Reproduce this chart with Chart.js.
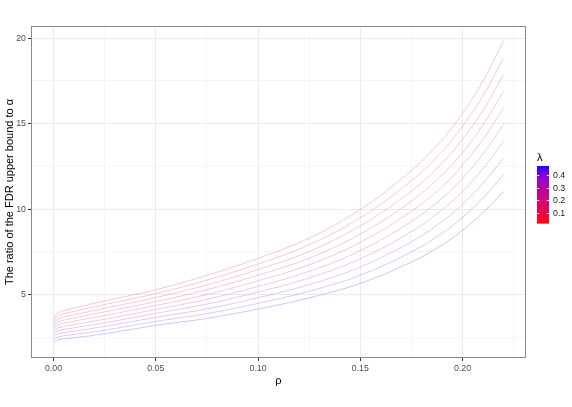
<!DOCTYPE html>
<html>
<head>
<meta charset="utf-8">
<script src="https://cdn.jsdelivr.net/npm/chart.js@4"></script>
<style>
  html, body { margin: 0; padding: 0; background: #ffffff; }
  #wrap { width: 572px; height: 407px; }
</style>
</head>
<body>
<div id="wrap"><canvas id="chart" width="572" height="407"></canvas></div>
<script>
// correlation values along the x axis
const rho = [0, 0.002, 0.01, 0.025, 0.05, 0.075, 0.10, 0.125, 0.15, 0.175, 0.19, 0.20, 0.21, 0.22];

// one curve per lambda (smallest lambda = top, red)
const lambda = [0.02, 0.07, 0.12, 0.17, 0.22, 0.27, 0.32, 0.37, 0.42, 0.47];

const ratio1  = [3.57, 3.90, 4.20, 4.62, 5.28, 6.12, 7.12, 8.30, 9.98, 12.25, 14.06, 15.62, 17.50, 19.84];
const ratio2  = [3.41, 3.73, 4.01, 4.41, 5.05, 5.84, 6.79, 7.91, 9.50, 11.66, 13.38, 14.86, 16.64, 18.86];
const ratio3  = [3.26, 3.55, 3.81, 4.19, 4.82, 5.56, 6.46, 7.52, 9.02, 11.06, 12.69, 14.10, 15.79, 17.88];
const ratio4  = [3.10, 3.38, 3.62, 3.98, 4.58, 5.28, 6.13, 7.13, 8.54, 10.47, 12.01, 13.33, 14.93, 16.90];
const ratio5  = [2.94, 3.21, 3.43, 3.77, 4.35, 5.00, 5.80, 6.74, 8.06, 9.87, 11.32, 12.57, 14.08, 15.92];
const ratio6  = [2.79, 3.03, 3.23, 3.55, 4.12, 4.72, 5.47, 6.36, 7.57, 9.28, 10.64, 11.81, 13.22, 14.95];
const ratio7  = [2.63, 2.86, 3.04, 3.34, 3.89, 4.44, 5.14, 5.97, 7.09, 8.68, 9.96, 11.05, 12.37, 13.97];
const ratio8  = [2.47, 2.69, 2.85, 3.13, 3.66, 4.16, 4.81, 5.58, 6.61, 8.09, 9.27, 10.28, 11.51, 12.99];
const ratio9  = [2.32, 2.51, 2.65, 2.91, 3.42, 3.88, 4.48, 5.19, 6.13, 7.49, 8.59, 9.52, 10.66, 12.01];
const ratio10 = [2.16, 2.34, 2.46, 2.70, 3.19, 3.60, 4.15, 4.80, 5.65, 6.90, 7.90, 8.76, 9.80, 11.03];
const ratios = [ratio1, ratio2, ratio3, ratio4, ratio5, ratio6, ratio7, ratio8, ratio9, ratio10];

// axis ticks
const xTicks = [0, 0.05, 0.10, 0.15, 0.20];
const xMinor = [0.025, 0.075, 0.125, 0.175, 0.225];
const yTicks = [5, 10, 15, 20];
const yMinor = [2.5, 7.5, 12.5, 17.5];
const legendTicks = [0.1, 0.2, 0.3, 0.4];

/**
 * ggplot-style red -> blue gradient, interpolated in CIELAB.
 */
function toLab(rgb) {
  const lin = rgb.map(c => {
    c /= 255;
    return c <= 0.04045 ? c / 12.92 : Math.pow((c + 0.055) / 1.055, 2.4);
  });
  const X = (0.4124564 * lin[0] + 0.3575761 * lin[1] + 0.1804375 * lin[2]) / 0.95047;
  const Y = 0.2126729 * lin[0] + 0.7151522 * lin[1] + 0.0721750 * lin[2];
  const Z = (0.0193339 * lin[0] + 0.1191920 * lin[1] + 0.9503041 * lin[2]) / 1.08883;
  const f = t => t > 0.008856 ? Math.cbrt(t) : 7.787 * t + 16 / 116;
  return [116 * f(Y) - 16, 500 * (f(X) - f(Y)), 200 * (f(Y) - f(Z))];
}

function fromLab(lab) {
  const fy = (lab[0] + 16) / 116;
  const fx = fy + lab[1] / 500;
  const fz = fy - lab[2] / 200;
  const inv = t => t * t * t > 0.008856 ? t * t * t : (t - 16 / 116) / 7.787;
  const X = inv(fx) * 0.95047, Y = inv(fy), Z = inv(fz) * 1.08883;
  const lin = [
    3.2404542 * X - 1.5371385 * Y - 0.4985314 * Z,
    -0.9692660 * X + 1.8760108 * Y + 0.0415560 * Z,
    0.0556434 * X - 0.2040259 * Y + 1.0572252 * Z,
  ];
  return lin.map(c => {
    c = c <= 0.0031308 ? 12.92 * c : 1.055 * Math.pow(c, 1 / 2.4) - 0.055;
    return Math.round(Math.max(0, Math.min(1, c)) * 255);
  });
}

const LOW = toLab([255, 0, 0]);
const HIGH = toLab([0, 0, 255]);
const lamMin = Math.min(...lambda);
const lamMax = Math.max(...lambda);

function lambdaColour(lam, alpha) {
  const t = (lam - lamMin) / (lamMax - lamMin);
  const rgb = fromLab(LOW.map((v, i) => v + (HIGH[i] - v) * t));
  return `rgba(${rgb[0]},${rgb[1]},${rgb[2]},${alpha})`;
}

const datasets = ratios.map((vals, k) => ({
  label: 'lambda ' + lambda[k],
  data: rho.map((x, i) => ({ x: x, y: vals[i] })),
  borderColor: lambdaColour(lambda[k], 0.22),
  borderWidth: 1,
  pointRadius: 0,
  fill: false,
  tension: 0.4,
}));

const TEXT = '"Liberation Sans", Arial, sans-serif';

// panel border + colourbar legend, drawn after the chart
const decorations = {
  id: 'decorations',
  afterDraw(chart) {
    const { ctx, chartArea } = chart;
    ctx.save();
    ctx.strokeStyle = '#8a8a8a';
    ctx.lineWidth = 1;
    ctx.strokeRect(chartArea.left + 0.5, chartArea.top + 0.5,
      chartArea.right - chartArea.left - 1, chartArea.bottom - chartArea.top - 1);

    // colourbar
    const barX = 537, barW = 12, barTop = 166, barBottom = 223;
    const bins = 60;
    for (let b = 0; b < bins; b++) {
      const lam = lamMin + (lamMax - lamMin) * (b + 0.5) / bins;
      const y0 = barBottom - (barBottom - barTop) * (b + 1) / bins;
      ctx.fillStyle = lambdaColour(lam, 1);
      ctx.fillRect(barX, y0, barW, (barBottom - barTop) / bins + 0.6);
    }
    const yOf = lam => barBottom - (lam - lamMin) / (lamMax - lamMin) * (barBottom - barTop);
    ctx.strokeStyle = '#ffffff';
    ctx.lineWidth = 0.8;
    ctx.fillStyle = '#1a1a1a';
    ctx.font = '8.8px ' + TEXT;
    ctx.textBaseline = 'middle';
    ctx.textAlign = 'left';
    legendTicks.forEach(v => {
      const y = Math.round(yOf(v)) + 0.5;
      ctx.beginPath();
      ctx.moveTo(barX, y); ctx.lineTo(barX + 2.4, y);
      ctx.moveTo(barX + barW - 2.4, y); ctx.lineTo(barX + barW, y);
      ctx.stroke();
      ctx.fillText(v.toFixed(1), barX + barW + 4, y);
    });
    ctx.font = '11px ' + TEXT;
    ctx.fillStyle = '#000000';
    ctx.textBaseline = 'alphabetic';
    ctx.fillText('λ', barX, barTop - 5);
    ctx.restore();
  },
};

const isIn = (list, v) => list.some(t => Math.abs(t - v) < 1e-9);

new Chart(document.getElementById('chart'), {
  type: 'line',
  data: { datasets: datasets },
  plugins: [decorations],
  options: {
    responsive: false,
    animation: false,
    devicePixelRatio: 1,
    layout: { padding: { top: 26, right: 46, bottom: 0, left: 0 } },
    plugins: { legend: { display: false }, tooltip: { enabled: false } },
    scales: {
      x: {
        type: 'linear',
        min: -0.011,
        max: 0.231,
        afterBuildTicks: s => { s.ticks = xTicks.concat(xMinor).map(v => ({ value: v })); },
        afterFit: s => { s.height = 49; },
        ticks: {
          autoSkip: false,
          maxRotation: 0,
          padding: 2,
          color: '#4d4d4d',
          font: { family: TEXT, size: 8.8 },
          callback: v => isIn(xTicks, v) ? v.toFixed(2) : '',
        },
        grid: {
          color: ctx => ctx.tick && isIn(xTicks, ctx.tick.value) ? '#ebebeb' : '#f0f0f0',
          lineWidth: ctx => ctx.tick && isIn(xTicks, ctx.tick.value) ? 1 : 0.6,
          tickColor: ctx => ctx.tick && isIn(xTicks, ctx.tick.value) ? '#333333' : 'rgba(0,0,0,0)',
          tickLength: 3,
        },
        border: { display: false },
        title: {
          display: true,
          text: 'ρ',
          color: '#000000',
          font: { family: TEXT, size: 11 },
          padding: { top: 0, bottom: 19 },
        },
      },
      y: {
        type: 'linear',
        min: 1.28,
        max: 20.72,
        afterBuildTicks: s => { s.ticks = yTicks.concat(yMinor).map(v => ({ value: v })); },
        afterFit: s => { s.width = 31; },
        ticks: {
          autoSkip: false,
          padding: 2,
          color: '#4d4d4d',
          font: { family: TEXT, size: 8.8 },
          callback: v => isIn(yTicks, v) ? String(v) : '',
        },
        grid: {
          color: ctx => ctx.tick && isIn(yTicks, ctx.tick.value) ? '#ebebeb' : '#f0f0f0',
          lineWidth: ctx => ctx.tick && isIn(yTicks, ctx.tick.value) ? 1 : 0.6,
          tickColor: ctx => ctx.tick && isIn(yTicks, ctx.tick.value) ? '#333333' : 'rgba(0,0,0,0)',
          tickLength: 3,
        },
        border: { display: false },
        title: {
          display: true,
          text: 'The ratio of the FDR upper bound to α',
          color: '#000000',
          font: { family: TEXT, size: 11 },
          padding: { top: 3, bottom: 0 },
        },
      },
    },
  },
});
</script>
</body>
</html>
